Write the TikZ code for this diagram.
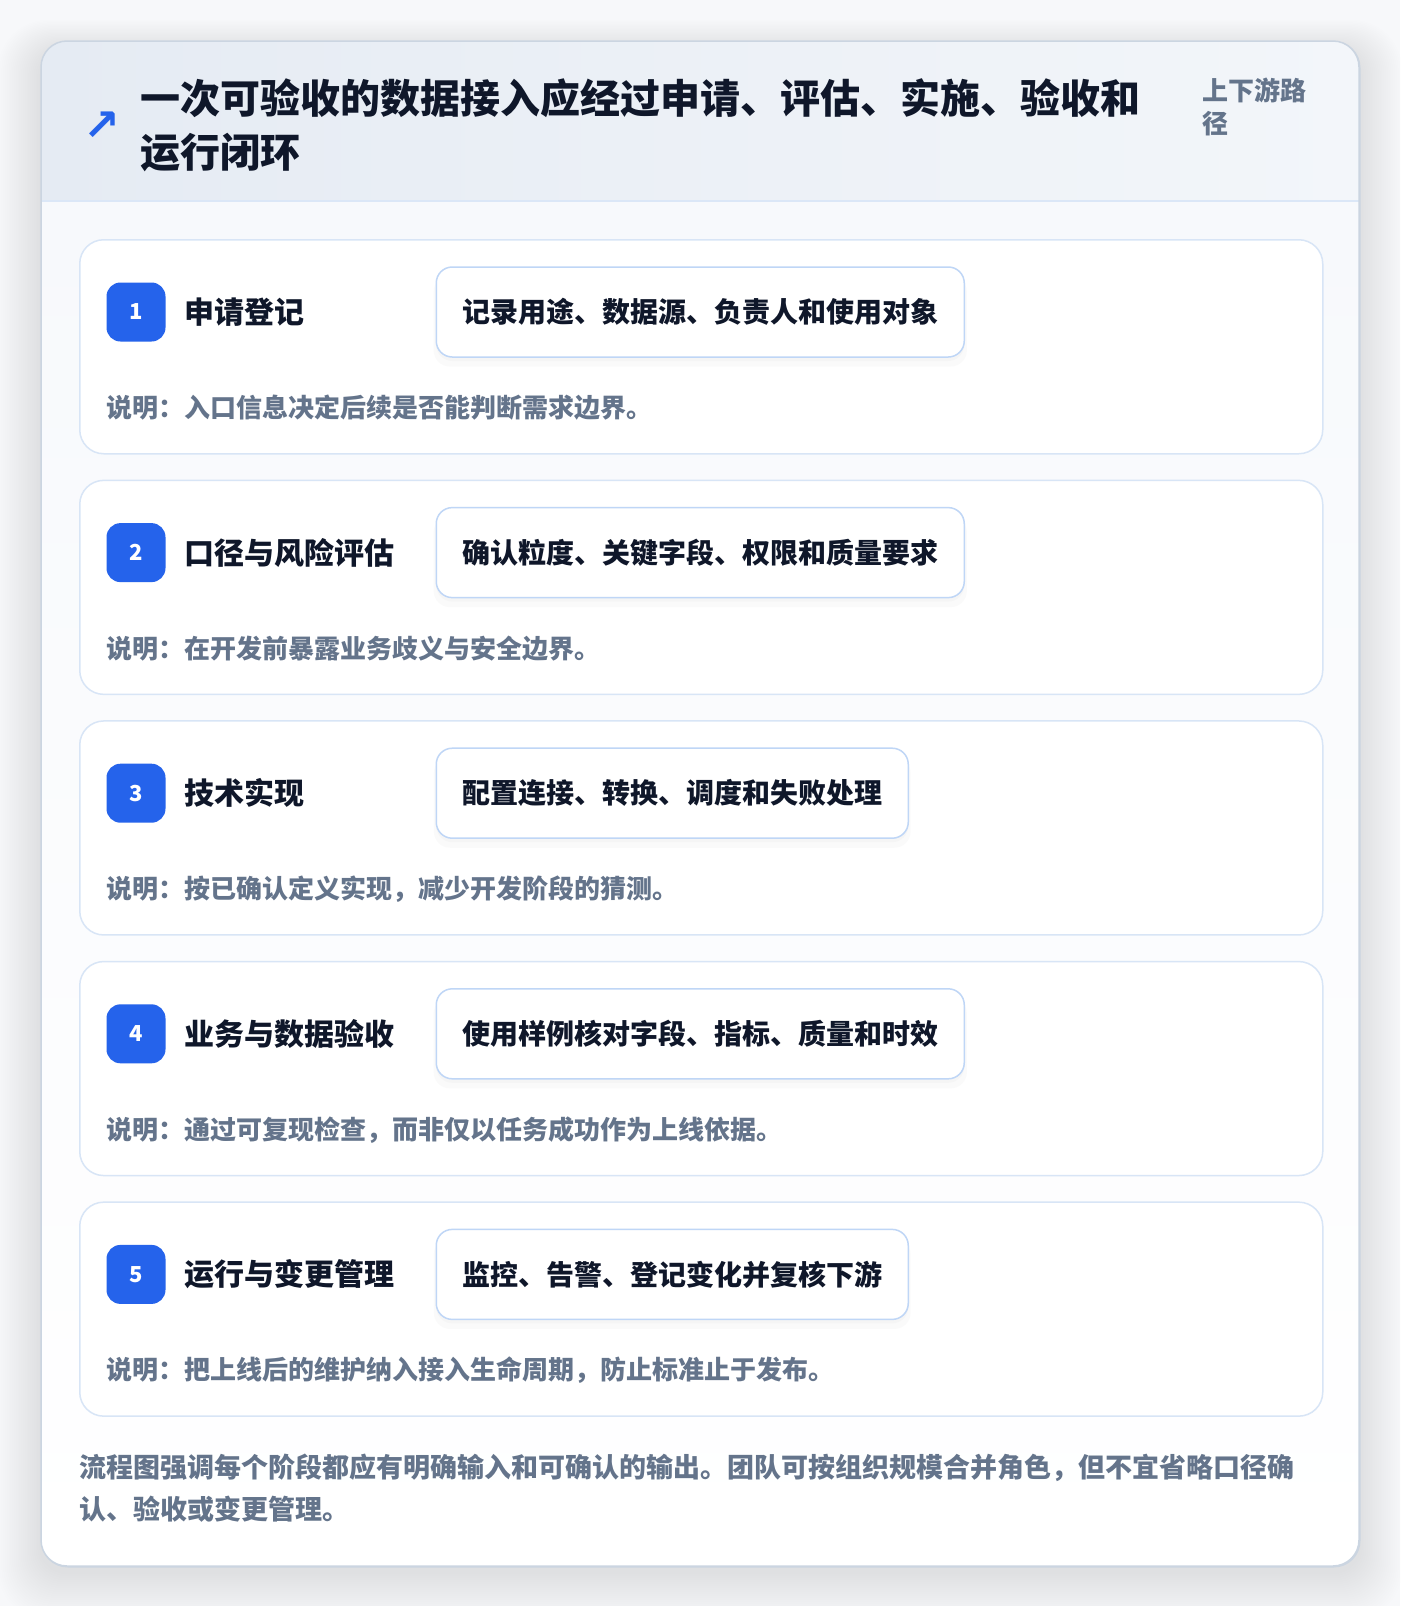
\documentclass[tikz,border=0pt]{standalone}
\usepackage{fontspec}
\setmainfont{Noto Sans CJK SC}
\newfontfamily\symfont{DejaVu Sans}
\usetikzlibrary{shadows}
\definecolor{pagebg}{HTML}{F7F8FA}
\definecolor{cardborder}{HTML}{CBD5E1}
\definecolor{headL}{HTML}{E5EBF3}
\definecolor{headR}{HTML}{F3F6FA}
\definecolor{headline}{HTML}{DBE7F7}
\definecolor{bodytop}{HTML}{F7F9FC}
\definecolor{stepborder}{HTML}{D8E5F6}
\definecolor{pillborder}{HTML}{BFD6F6}
\definecolor{accent}{HTML}{2563EB}
\definecolor{ink}{HTML}{0F172A}
\definecolor{muted}{HTML}{64748B}
\tikzset{
  stepcard/.style={draw=stepborder, line width=1.5pt, fill=white, rounded corners=24pt,
    minimum width=1243pt, minimum height=214pt, inner sep=0pt, anchor=north west},
  badge/.style={fill=accent, rounded corners=14pt, minimum size=59pt, inner sep=0pt,
    text=white, font=\fontsize{22}{22}\selectfont\bfseries},
  steptitle/.style={anchor=west, inner sep=0pt, text=ink, font=\fontsize{30}{30}\selectfont\bfseries},
  pill/.style={anchor=west, draw=pillborder, line width=1.5pt, fill=white, rounded corners=16pt,
    minimum height=90pt, inner xsep=26pt, inner ysep=0pt, text=ink,
    font=\fontsize{28}{28}\selectfont\bfseries,
    drop shadow={opacity=0.035, shadow xshift=0pt, shadow yshift=-9pt, shadow scale=1.01},
    drop shadow={opacity=0.035, shadow xshift=0pt, shadow yshift=-4pt}},
  desc/.style={anchor=west, inner sep=0pt, text=muted, font=\fontsize{26}{26}\selectfont\bfseries},
}
\begin{document}
\begin{tikzpicture}[x=1pt,y=-1pt]
\useasboundingbox (0,0) rectangle (1400,1606);
\fill[pagebg] (0,0) rectangle (1400,1606);
% soft shadow of the main card
\foreach \i in {1,...,24}{
  \fill[black, opacity=0.0035, rounded corners={26pt+\i pt}]
    ({41-\i*1.8},{51-\i*1.3}) rectangle ({1359+\i*1.8},{1572+\i*2.0});
}
% main card
\node[draw=cardborder, line width=1.5pt, fill=white, rounded corners=26pt, inner sep=0pt,
  minimum width=1318pt, minimum height=1525pt, anchor=north west] (card) at (41,41) {};
\begin{scope}
  \clip[rounded corners=26pt] (41,41) rectangle (1359,1566);
  \shade[left color=headL, right color=headR] (41,41) rectangle (1359,201);
  \shade[top color=bodytop, bottom color=white] (41,201) rectangle (1359,1566);
  \draw[headline, line width=1.5pt] (41,201) -- (1359,201);
\end{scope}
\draw[cardborder, line width=1.5pt, rounded corners=26pt] (41,41) rectangle (1359,1566);
% header
\node[text=accent, inner sep=0pt, font=\symfont\bfseries\fontsize{44}{44}\selectfont] (icon) at (101.5,126) {↗};
\node[anchor=west, align=left, inner sep=0pt, text=ink, font=\fontsize{40}{54}\selectfont\bfseries]
  (title) at (140,125) {一次可验收的数据接入应经过申请、评估、实施、验收和\\运行闭环};
\node[anchor=west, align=left, inner sep=0pt, text=muted, font=\fontsize{26}{33}\selectfont\bfseries]
  (tag) at (1202,106.5) {上下游路\\径};
% steps
\foreach \n/\ttl/\pl/\ds [count=\k from 0] in {
  1/申请登记/记录用途、数据源、负责人和使用对象/说明：入口信息决定后续是否能判断需求边界。,
  2/口径与风险评估/确认粒度、关键字段、权限和质量要求/说明：在开发前暴露业务歧义与安全边界。,
  3/技术实现/配置连接、转换、调度和失败处理/说明：按已确认定义实现，减少开发阶段的猜测。,
  4/业务与数据验收/使用样例核对字段、指标、质量和时效/说明：通过可复现检查，而非仅以任务成功作为上线依据。,
  5/运行与变更管理/监控、告警、登记变化并复核下游/说明：把上线后的维护纳入接入生命周期，防止标准止于发布。}{
  \pgfmathsetmacro{\top}{239+\k*240.6}
  \node[stepcard] (s\n) at (79,\top) {};
  \node[badge] (b\n) at (136,{\top+73}) {\n};
  \node[steptitle] (t\n) at (184,{\top+73}) {\ttl};
  \node[pill] (p\n) at (435.5,{\top+73}) {\pl};
  \node[desc] (d\n) at (106.5,{\top+169}) {\ds};
}
% footer
\node[anchor=west, align=left, inner sep=0pt, text=muted, font=\fontsize{27}{42}\selectfont\bfseries]
  (foot) at (79,1488.5) {流程图强调每个阶段都应有明确输入和可确认的输出。团队可按组织规模合并角色，但不宜省略口径确\\认、验收或变更管理。};
\end{tikzpicture}
\end{document}
